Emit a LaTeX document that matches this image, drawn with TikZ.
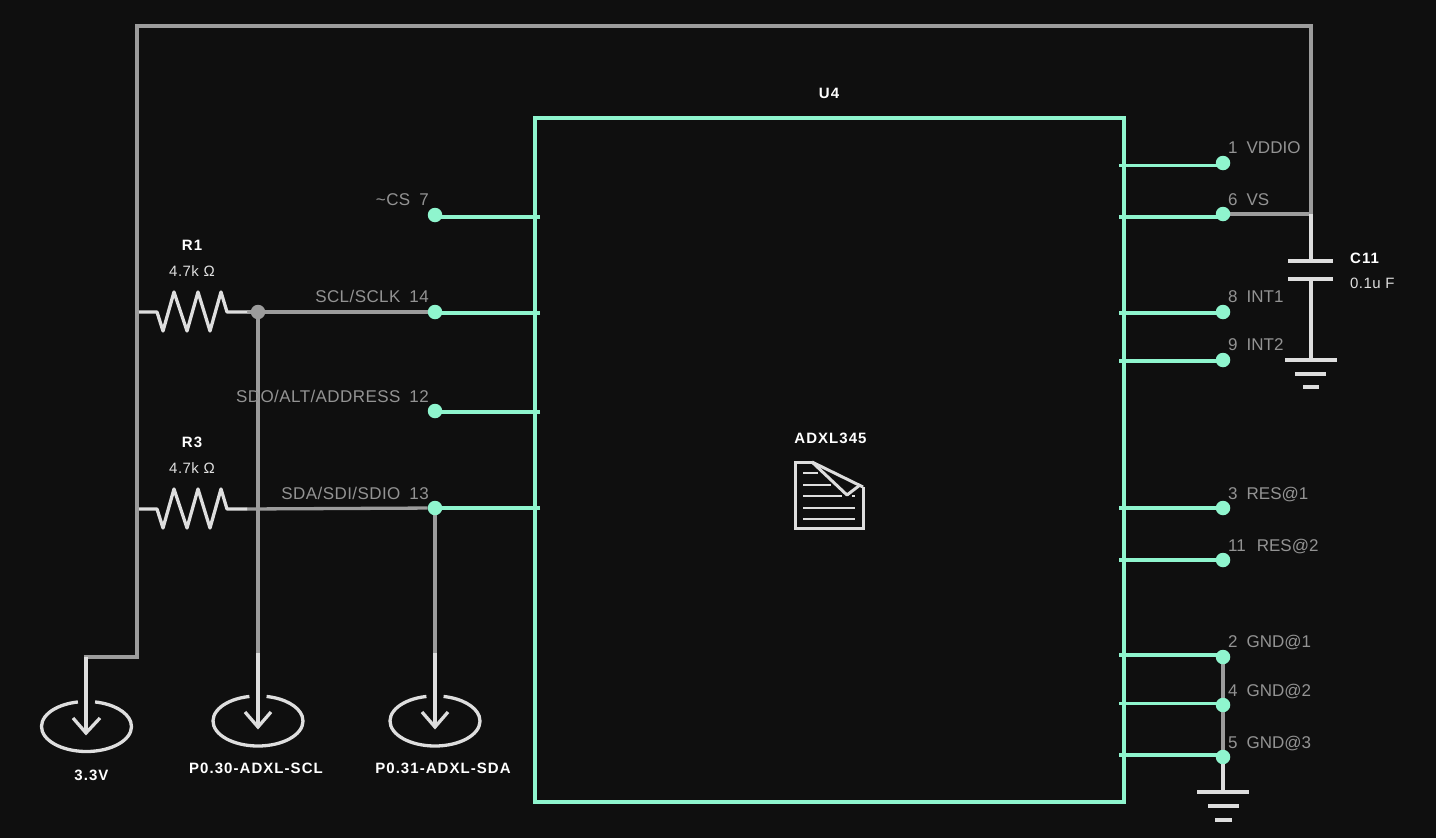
\documentclass[tikz,border=0pt]{standalone}
\usepackage{fontspec}
\setmainfont{Liberation Sans}
\newfontfamily\reffont[LetterSpace=7]{Liberation Sans Bold}
\newfontfamily\valfont[LetterSpace=3]{Liberation Sans}
\newfontfamily\pinlfont[LetterSpace=2.5]{Liberation Sans}
\usetikzlibrary{calc}
\definecolor{bgc}{HTML}{0F0F0F}
\definecolor{teal}{HTML}{8FF5CE}
\definecolor{wire}{HTML}{9C9C9C}
\definecolor{sym}{HTML}{DEDEDE}
\definecolor{lab}{HTML}{939393}
\pgfdeclarelayer{wires}
\pgfsetlayers{wires,main}
\tikzset{
  x=1pt,y=-1pt,
  wirep/.style={draw=wire,line width=3.3pt},
  symp/.style={draw=sym,line width=3.3pt,line cap=butt},
  stub/.style={draw=teal,line width=3.3pt},
  dot/.style={circle,fill=teal,inner sep=0pt,minimum size=14.5pt},
  jdot/.style={circle,fill=wire,inner sep=0pt,minimum size=14.5pt},
  chip/.style={draw=teal,line width=3.3pt,inner sep=0pt,minimum width=589pt,minimum height=684pt},
  pinl/.style={anchor=base east,text=lab,font=\pinlfont\fontsize{17}{20}\selectfont,inner sep=0pt},
  pinr/.style={anchor=base west,text=lab,font=\fontsize{17}{20}\selectfont,inner sep=0pt},
  ref/.style={anchor=base,text=white,font=\reffont\fontsize{15}{17}\selectfont,inner sep=0pt},
  val/.style={anchor=base,text=sym,font=\valfont\fontsize{15}{17}\selectfont,inner sep=0pt},
}
\newcommand{\resistor}[1]{% y position
  \draw[symp,line join=round] (139,#1) -- (157,#1) -- (163,#1+19) -- (174,#1-20) -- (187,#1+19) -- (198,#1-20) -- (210,#1+19) -- (221,#1-20) -- (227,#1) -- (247,#1);
}
\newcommand{\pwr}[3]{% name, x, cy
  \coordinate (#1) at (#2,#3);
  \draw[symp] ([shift={(101:45pt and 25pt)}]#1) arc[start angle=101,delta angle=338,x radius=45pt,y radius=25pt];
}
\begin{document}
\begin{tikzpicture}
\useasboundingbox (0,0) rectangle (1436,838);
% chip
\node[chip] (U) at (829.5,460) {};
% right pins
\foreach \n/\y in {a/163,b/214,c/312,d/360,e/508,f/560,g/657,h/705,i/757}{
  \node[dot] (d\n) at (1223,\y) {};
}
\foreach \n/\y in {a/215,b/312,c/411,d/508}{
  \node[dot] (l\n) at (435,\y) {};
}
\node[jdot] (J) at (258,312) {};
% free ends of stubs
\foreach \n/\y in {a/165.5,b/217,c/313,d/361,e/508,f/560,g/655,h/703.5,i/755}{
  \coordinate (sr\n) at (1119,\y);
}
\foreach \n/\y in {a/217,b/313,c/412,d/508}{
  \coordinate (sl\n) at (540,\y);
}
% wire corners
\coordinate (tl) at (137,26);
\coordinate (tr) at (1311,26);
\coordinate (vs) at (1311,214);
\coordinate (p1) at (137,657);
\coordinate (p2) at (86,657);
\coordinate (capA) at (1311,261);
\coordinate (capB) at (1311,278);
\coordinate (capG) at (1311,360);
\coordinate (gnd) at (1223,792);
\coordinate (r1end) at (247,312);
\coordinate (r3end) at (247,509);
\coordinate (sclbot) at (258,653);
\coordinate (sdabot) at (435,653);
\coordinate (sclhead) at (258,727);
\coordinate (sdahead) at (435,727);
\coordinate (vhead) at (86,733);

\begin{pgfonlayer}{wires}
\fill[bgc] (0,0) rectangle (1436,838);
\draw[wirep,line join=miter] (vs) -- (tr) -- (tl) -- (p1) -- (p2) -- ++(0,2);
\draw[wirep] (db) -- (vs);
\draw[wirep] (r1end) -- (lb);
\draw[wirep] (r3end) -- (ld);
\draw[wirep] (J) -- (sclbot);
\draw[wirep] (ld) -- (sdabot);
\draw[wirep] (dg) -- (di);
\foreach \n in {a,b,c,d,e,f,g,h,i}{
  \draw[stub] (sr\n) -- (sr\n -| d\n);
}
\foreach \n in {a,b,c,d}{
  \draw[stub] (sl\n) -- (sl\n -| l\n);
}
\end{pgfonlayer}

% resistors
\resistor{312}
\resistor{509}
% capacitor
\draw[symp] (vs) -- (capA);
\draw[symp] (capB) -- (capG);
\draw[symp] (1288,261) -- (1333,261);
\draw[symp] (1288,279) -- (1333,279);
% grounds
\draw[symp] (1285,360) -- (1337,360);
\draw[symp] (1295,374) -- (1326,374);
\draw[symp] (1303,387) -- (1319,387);
\draw[symp] (di) -- (gnd);
\draw[symp] (1197,792) -- (1249,792);
\draw[symp] (1208,806) -- (1239,806);
\draw[symp] (1215,820) -- (1232,820);
% power symbols
\pwr{pv}{86.5}{726.5}
\pwr{pscl}{258}{721}
\pwr{psda}{435}{721}
\draw[symp,line join=miter] (p2) -- (vhead);
\draw[symp,line join=miter] (73,718) -- (vhead) -- (100,718);
\draw[symp] (sclbot) -- (sclhead);
\draw[symp,line join=miter] (245,712) -- (sclhead) -- (271,712);
\draw[symp] (sdabot) -- (sdahead);
\draw[symp,line join=miter] (422,712) -- (sdahead) -- (448,712);
% document icon
\draw[sym,line width=3pt,line join=miter] (812,462) -- (795.5,462) -- (795.5,528) -- (863,528) -- (863,487);
\draw[sym,line width=3pt,line join=round] (812,462) -- (863,487);
\draw[sym,line width=3pt,line join=round] (812,462) -- (847,495) -- (860,485);
\draw[sym,line width=2.6pt] (803,473) -- (818,473) (803,485) -- (831,485) (803,496) -- (842,496) (852,496) -- (855,496) (803,508) -- (855,508) (803,519) -- (855,519);
% labels
\node[ref] (tU) at (829,98) {U4};
\node[ref] (tIC) at (830.5,443) {ADXL345};
\node[ref] (tR1) at (192,250) {R1};
\node[val] (vR1) at (192,276) {4.7k Ω};
\node[ref] (tR3) at (192,447) {R3};
\node[val] (vR3) at (192,473) {4.7k Ω};
\node[ref,anchor=base west] (tC) at (1350,263) {C11};
\node[val,anchor=base west] (vC) at (1350,288) {0.1u F};
\node[ref] (t33) at (91.5,780) {3.3V};
\node[ref] (tscl) at (256,773.5) {P0.30-ADXL-SCL};
\node[ref] (tsda) at (443,773.5) {P0.31-ADXL-SDA};
\newcommand{\gp}{\hspace{9pt}}
\node[pinl] (n7) at (429,205) {\textasciitilde CS\gp 7};
\node[pinl] (n14) at (429,302) {SCL/SCLK\gp 14};
\node[pinl] (n12) at (429,402) {SDO/ALT/ADDRESS\gp 12};
\node[pinl] (n13) at (429,499) {SDA/SDI/SDIO\gp 13};
\node[pinr] (n1) at (1228,153) {1\gp VDDIO};
\node[pinr] (n6) at (1228,205) {6\gp VS};
\node[pinr] (n8) at (1228,302) {8\gp INT1};
\node[pinr] (n9) at (1228,350) {9\gp INT2};
\node[pinr] (n3) at (1228,499) {3\gp RES@1};
\node[pinr] (n11) at (1228,551) {11\hspace{11pt}RES@2};
\node[pinr] (n2) at (1228,647) {2\gp GND@1};
\node[pinr] (n4) at (1228,696) {4\gp GND@2};
\node[pinr] (n5) at (1228,748) {5\gp GND@3};
\end{tikzpicture}
\end{document}
